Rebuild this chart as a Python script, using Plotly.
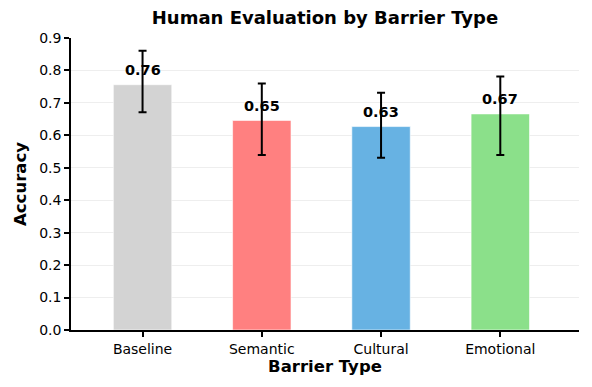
import plotly.graph_objects as go

# Data
barrier_types = ["Baseline", "Semantic", "Cultural", "Emotional"]
accuracy = [0.756, 0.646, 0.627, 0.666]
err_plus = [0.105, 0.114, 0.104, 0.115]
err_minus = [0.085, 0.107, 0.096, 0.127]
bar_colors = ["#d3d3d3", "#ff8080", "#67b2e3", "#8be08a"]

FONT = "DejaVu Sans"

fig = go.Figure()
fig.add_trace(go.Bar(
    x=barrier_types,
    y=accuracy,
    width=0.49,
    marker=dict(color=bar_colors, line=dict(color="white", width=0.6)),
    error_y=dict(
        type="data",
        symmetric=False,
        array=err_plus,
        arrayminus=err_minus,
        color="black",
        thickness=2,
        width=4,
    ),
    showlegend=False,
))

# value labels above each bar
for cat, val in zip(barrier_types, accuracy):
    fig.add_annotation(
        x=cat, y=val + 0.045,
        text=f"<b>{val:.2f}</b>",
        showarrow=False,
        font=dict(family=FONT, size=14.5, color="black"),
        yanchor="middle",
    )

fig.update_layout(
    width=592, height=387,
    margin=dict(l=71, r=13, t=38, b=57),
    paper_bgcolor="white",
    plot_bgcolor="white",
    font=dict(family=FONT, size=12, color="black"),
    title=dict(
        text="<b>Human Evaluation by Barrier Type</b>",
        x=(71 + 579) / 2 / 592, xanchor="center",
        y=0.953, yanchor="middle",
        font=dict(family=FONT, size=18, color="black"),
    ),
)
fig.update_xaxes(
    range=[-0.6, 3.66],
    showline=True, linecolor="black", linewidth=1.5,
    ticks="outside", ticklen=5, tickwidth=1.5, tickcolor="black",
    showgrid=False,
    title=dict(text="<b>Barrier Type</b>", font=dict(family=FONT, size=16.5), standoff=5),
    tickfont=dict(family=FONT, size=14),
)
fig.update_yaxes(
    range=[0, 0.9],
    dtick=0.1, tickformat=".1f",
    showline=True, linecolor="black", linewidth=1.5,
    ticks="outside", ticklen=5, tickwidth=1.5, tickcolor="black",
    showgrid=True, gridcolor="#eeeeee", gridwidth=1,
    zeroline=False,
    title=dict(text="<b>Accuracy</b>", font=dict(family=FONT, size=16.5), standoff=8),
    tickfont=dict(family=FONT, size=14),
)

fig.write_html(
    "out.html",
    config={"displayModeBar": False},
    post_script="document.body.style.margin='0';",
)
